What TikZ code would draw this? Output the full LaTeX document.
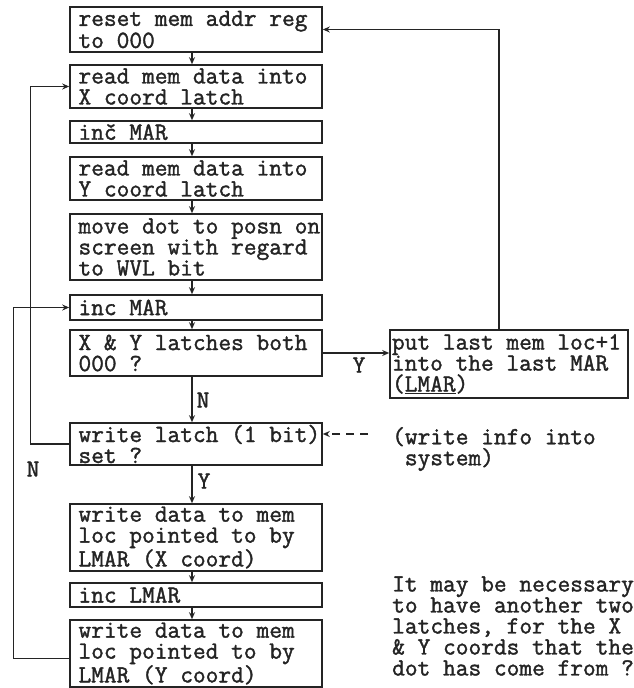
\documentclass[tikz,border=0pt]{standalone}
\usepackage{fontspec}
\usetikzlibrary{arrows.meta}
\definecolor{ink}{HTML}{242424}
% heavier typewriter face: 10 characters per inch, 6 lines per inch
\newfontfamily\typer{Latin Modern Mono}[RawFeature={embolden=1.5}]
\newcommand\tw{\fontsize{24.7}{21}\selectfont\typer}
% one typed line: never broken, with the font's own full-width spaces
\newcommand\tl[1]{\mbox{\spaceskip=0pt\xspaceskip=0pt #1}}
\begin{document}
\begin{tikzpicture}[x=1pt,y=-1pt,
  every node/.style={font=\tw, text=ink},
  box/.style={draw=ink, line width=1.6pt, rectangle, minimum width=252pt,
    text width=235pt, inner xsep=8.5pt, inner ysep=0pt, align=left},
  arr/.style={draw=ink, line width=1.2pt, -{Stealth[length=7pt,width=6pt]}},
  dasharr/.style={arr, dash pattern=on 8pt off 6pt},
  lbl/.style={inner sep=0pt}
]
\useasboundingbox (0,0) rectangle (633,688);

% main column of steps
\node[box, minimum height=45pt] (b1) at (196,29.5) {\tl{reset mem addr reg}\\\tl{to 000}};
\node[box, minimum height=43pt] (b2) at (196,86.5) {\tl{read mem data into}\\\tl{X coord latch}};
\node[box, minimum height=22pt] (b3) at (196,132) {\tl{inč MAR}};
\node[box, minimum height=43pt] (b4) at (196,178.5) {\tl{read mem data into}\\\tl{Y coord latch}};
\node[box, minimum height=66pt] (b5) at (196,247) {\tl{move dot to posn on}\\\tl{screen with regard}\\\tl{to WVL bit}};
\node[box, minimum height=25pt] (b6) at (196,307.5) {\tl{inc MAR}};
\node[box, minimum height=46pt] (b7) at (196,353) {\tl{X \& Y latches both}\\\tl{000 ?}};
\node[box, minimum height=42pt] (b8) at (196,444) {\tl{write latch (1 bit)}\\\tl{set ?}};
\node[box, minimum height=67pt] (b9) at (196,537.5) {\tl{write data to mem}\\\tl{loc pointed to by}\\\tl{LMAR (X coord)}};
\node[box, minimum height=24pt] (b10) at (196,595) {\tl{inc LMAR}};
\node[box, minimum height=67pt] (b11) at (196,653.5) {\tl{write data to mem}\\\tl{loc pointed to by}\\\tl{LMAR (Y coord)}};

% end-of-data branch
\node[box, minimum width=238pt, text width=234pt, inner xsep=2pt, minimum height=68pt]
  (rb) at (509,364) {\tl{put last mem loc+1}\\\tl{into the last MAR}\\\tl{(\underline{LMAR})}};

% side remarks
\node[lbl, anchor=west, align=left] (wi) at (392,449) {\tl{(write info into}\\\tl{\phantom{(}system)}};
\node[lbl, anchor=west, align=left] (note) at (392,626)
  {\tl{It may be necessary}\\\tl{to have another two}\\\tl{latches, for the X}\\\tl{\& Y coords that the}\\\tl{dot has come from ?}};

% straight-down flow
\foreach \a/\b in {b1/b2, b2/b3, b3/b4, b4/b5, b5/b6, b6/b7, b7/b8, b8/b9, b9/b10, b10/b11}
  \draw[arr] ([xshift=-4pt]\a.south) -- ([xshift=-4pt]\b.north);

% branch labels
\node[lbl] (ln1) at (203,400) {N};
\node[lbl] (ly1) at (204,481) {Y};
\node[lbl] (ly2) at (359,365) {Y};
\node[lbl] (ln2) at (33,469) {N};

% loops and branches
\draw[arr] (b7.east) -- (b7.east -| rb.west);
\draw[arr] ([xshift=-10pt]rb.north) |- (b1.east);
\draw[arr] (b8.west) -- ++(-39,0) |- (b2.west);
\draw[arr] ([yshift=-5pt]b11.west) -- ++(-56,0) |- (b6.west);

% external write request
\coordinate (wt) at ([yshift=10pt]b8.east);
\draw[dasharr] ([xshift=-24pt]wi.west |- wt) -- (wt);
\end{tikzpicture}
\end{document}
